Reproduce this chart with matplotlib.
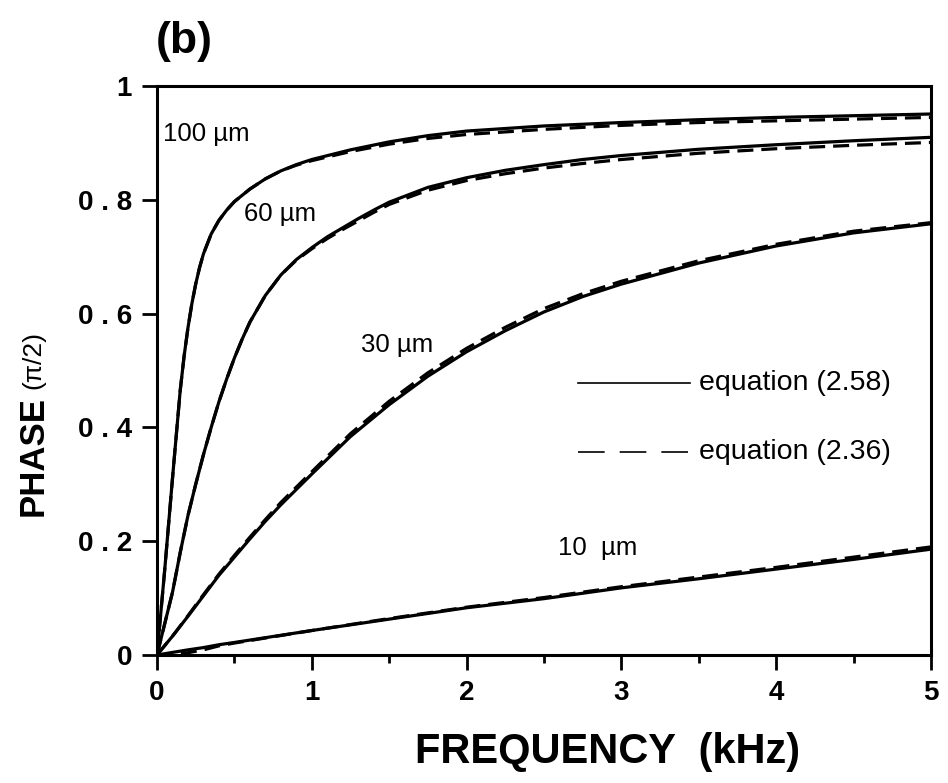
import matplotlib
matplotlib.use("Agg")
import matplotlib.pyplot as plt
from matplotlib.ticker import FixedLocator, MultipleLocator, FixedFormatter

plt.rcParams['font.family'] = ['Liberation Sans', 'DejaVu Sans']

# Frequency (kHz) and phase (units of pi/2) for each electrode size
freq_100 = [0, 0.05, 0.1, 0.15, 0.175, 0.2, 0.225, 0.25, 0.275, 0.3, 0.35, 0.4, 0.45, 0.5,
            0.6, 0.7, 0.8, 0.9, 1.0, 1.25, 1.5, 1.75, 2.0, 2.5, 3.0, 3.5, 4.0, 4.5, 5.0]
phase_100_a = [0, 0.15, 0.31, 0.465, 0.525, 0.575, 0.617, 0.652, 0.681, 0.705, 0.740,
               0.764, 0.782, 0.797, 0.819, 0.837, 0.851, 0.862, 0.871, 0.888, 0.902,
               0.913, 0.921, 0.930, 0.936, 0.941, 0.945, 0.948, 0.951]
phase_100_b = [0, 0.15, 0.31, 0.465, 0.525, 0.575, 0.617, 0.652, 0.681, 0.705, 0.740,
               0.764, 0.782, 0.797, 0.819, 0.837, 0.851, 0.861, 0.869, 0.885, 0.898,
               0.908, 0.915, 0.924, 0.931, 0.936, 0.939, 0.942, 0.945]

freq_60 = [0, 0.05, 0.1, 0.15, 0.2, 0.25, 0.3, 0.35, 0.4, 0.45, 0.5, 0.55, 0.6, 0.7, 0.8,
           0.9, 1.0, 1.1, 1.2, 1.3, 1.4, 1.5, 1.75, 2.0, 2.25, 2.5, 2.75, 3.0, 3.5, 4.0,
           4.5, 5.0]
phase_60_a = [0, 0.055, 0.11, 0.18, 0.245, 0.30, 0.352, 0.40, 0.445, 0.485, 0.522, 0.555,
              0.585, 0.632, 0.668, 0.695, 0.716, 0.735, 0.751, 0.767, 0.782, 0.796, 0.822,
              0.839, 0.852, 0.862, 0.871, 0.878, 0.889, 0.897, 0.904, 0.910]
phase_60_b = [0, 0.055, 0.11, 0.18, 0.245, 0.30, 0.352, 0.40, 0.445, 0.485, 0.522, 0.555,
              0.585, 0.632, 0.668, 0.694, 0.714, 0.732, 0.748, 0.763, 0.778, 0.792, 0.817,
              0.834, 0.846, 0.856, 0.864, 0.871, 0.882, 0.890, 0.896, 0.901]

freq_30 = [0, 0.1, 0.2, 0.3, 0.4, 0.5, 0.6, 0.7, 0.8, 1.0, 1.25, 1.5, 1.75, 2.0, 2.25,
           2.5, 2.75, 3.0, 3.5, 4.0, 4.5, 5.0]
phase_30_a = [0, 0.033, 0.068, 0.104, 0.14, 0.172, 0.204, 0.235, 0.264, 0.318, 0.384,
              0.44, 0.49, 0.533, 0.57, 0.603, 0.63, 0.652, 0.689, 0.719, 0.742, 0.758]
phase_30_b = [0, 0.033, 0.069, 0.106, 0.142, 0.175, 0.207, 0.238, 0.268, 0.322, 0.389,
              0.446, 0.496, 0.539, 0.576, 0.609, 0.635, 0.657, 0.693, 0.722, 0.745, 0.760]

freq_10 = [0, 0.1, 0.2, 0.3, 0.4, 0.5, 1.0, 1.5, 2.0, 2.5, 3.0, 3.5, 4.0, 4.5, 5.0]
phase_10_a = [0, 0.0045, 0.009, 0.013, 0.018, 0.022, 0.043, 0.063, 0.083, 0.099, 0.118,
              0.134, 0.151, 0.168, 0.186]
phase_10_b = [0, 0.001, 0.004, 0.009, 0.016, 0.021, 0.043, 0.064, 0.084, 0.101, 0.120,
              0.137, 0.154, 0.172, 0.190]

curve_labels = ["100 \u00b5m", "60 \u00b5m", "30 \u00b5m", "10  \u00b5m"]
label_pos = [(0.04, 0.915), (0.56, 0.775), (1.32, 0.545), (2.59, 0.188)]

legend_texts = ["equation (2.58)", "equation (2.36)"]

x_ticks = [0, 1, 2, 3, 4, 5]
y_ticks = [0, 0.2, 0.4, 0.6, 0.8, 1.0]
y_tick_labels = ["0", "0 . 2", "0 . 4", "0 . 6", "0 . 8", "1"]

fig = plt.figure(figsize=(9.48, 7.83), dpi=100)
ax = fig.add_axes([0.1656, 0.1635, 0.8164, 0.7265])

lw = 2.3
series = [(freq_100, phase_100_a, phase_100_b),
          (freq_60, phase_60_a, phase_60_b),
          (freq_30, phase_30_a, phase_30_b),
          (freq_10, phase_10_a, phase_10_b)]
for f, a, b in series:
    ax.plot(f, b, color='black', lw=lw, linestyle=(0, (5, 2.5)), solid_capstyle='butt')
    ax.plot(f, a, color='black', lw=lw, solid_joinstyle='round')

for txt, (x, y) in zip(curve_labels, label_pos):
    ax.text(x, y, txt, fontsize=18.5, ha='left', va='center')

# legend drawn in axes coordinates
leg_y = [0.478, 0.357]
ax.plot([0.544, 0.689], [leg_y[0], leg_y[0]], transform=ax.transAxes, color='black', lw=1.2)
ax.plot([0.544, 0.689], [leg_y[1], leg_y[1]], transform=ax.transAxes, color='black', lw=1.2,
        linestyle=(0, (16, 9)))
ax.text(0.700, leg_y[0], legend_texts[0], transform=ax.transAxes, fontsize=20.5, va='center')
ax.text(0.700, leg_y[1], legend_texts[1], transform=ax.transAxes, fontsize=20.5, va='center')

ax.set_xlim(0, 5)
ax.set_ylim(0, 1)
ax.xaxis.set_major_locator(FixedLocator(x_ticks))
ax.xaxis.set_minor_locator(MultipleLocator(0.5))
ax.yaxis.set_major_locator(FixedLocator(y_ticks))
ax.yaxis.set_major_formatter(FixedFormatter(y_tick_labels))
ax.set_xticklabels([str(v) for v in x_ticks])

for s in ax.spines.values():
    s.set_linewidth(2.2)
ax.tick_params(axis='both', which='major', direction='out', width=2.0, length=11,
               labelsize=20, pad=7)
ax.tick_params(axis='x', which='minor', direction='out', width=2.0, length=6)
for lab in ax.get_xticklabels() + ax.get_yticklabels():
    lab.set_fontweight('bold')

fig.text(0.641, 0.040, "FREQUENCY  (kHz)", fontsize=30, fontweight='bold',
         ha='center', va='center')
fig.text(0.035, 0.417, "PHASE", fontsize=25, fontweight='bold', rotation=90,
         ha='center', va='center')
fig.text(0.035, 0.540, "(\u03c0/2)", fontsize=19, rotation=90, ha='center', va='center')
fig.text(0.194, 0.947, "(b)", fontsize=32, fontweight='bold', ha='center', va='center')

fig.savefig("out.png", dpi=100)
